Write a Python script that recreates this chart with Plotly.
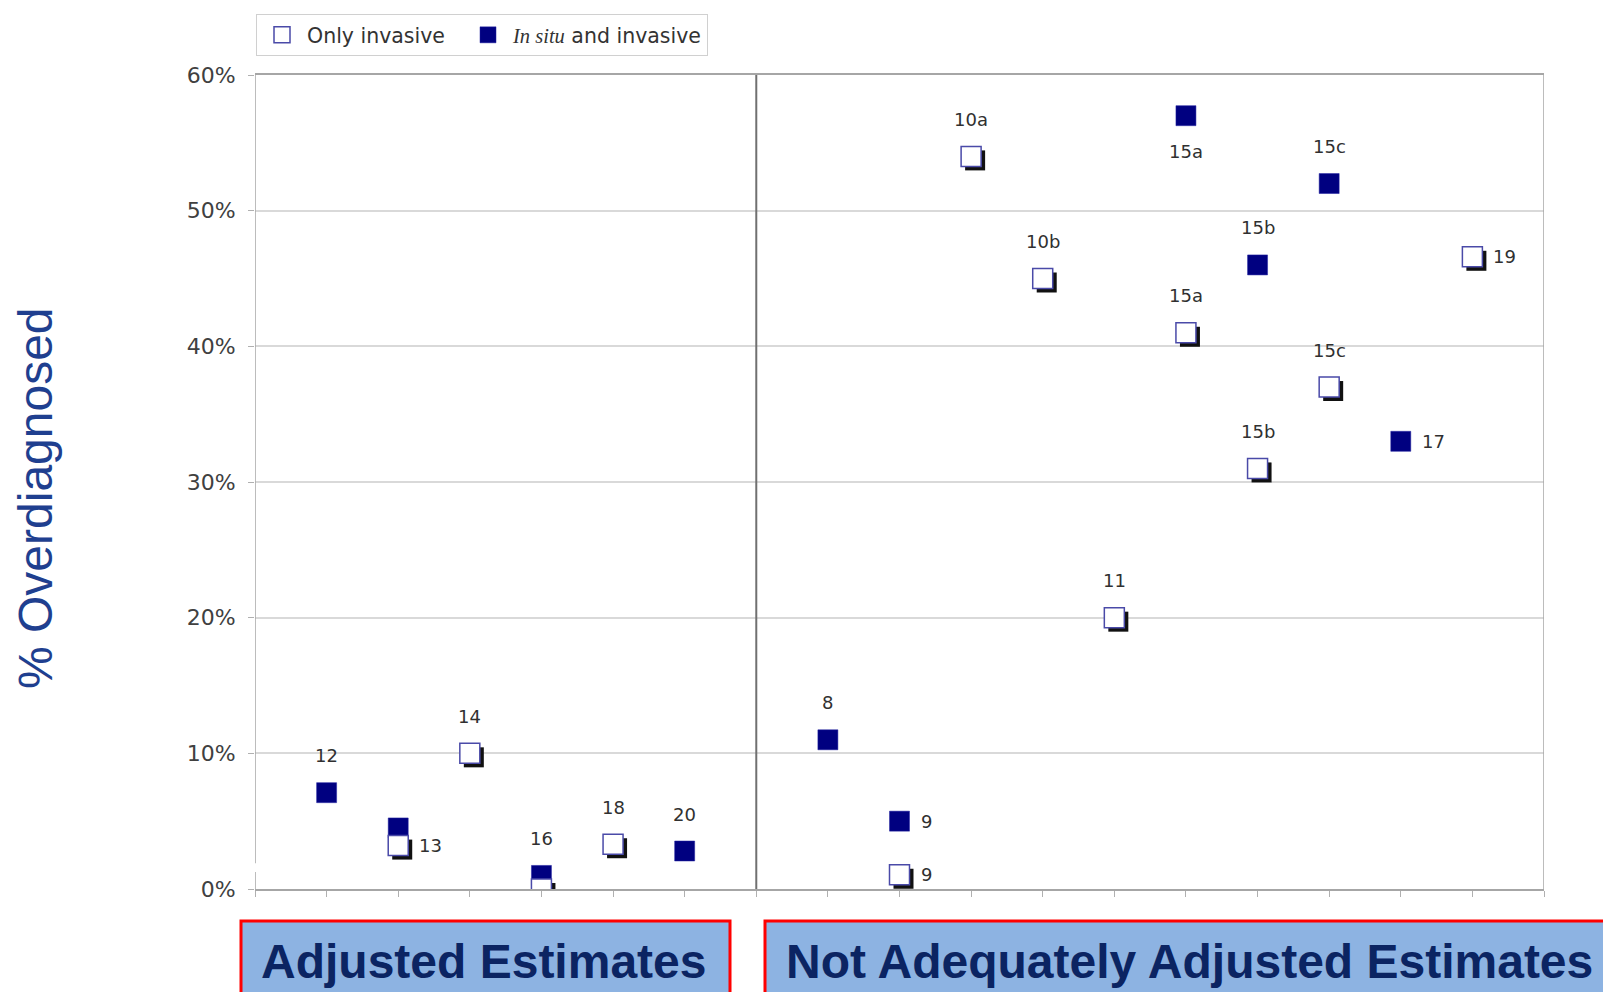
import plotly.graph_objects as go

# ---------------- data ----------------
OPEN_X = [2, 3, 4, 5, 9, 10, 11, 12, 13, 14, 15, 17]
OPEN_Y = [3.2, 10.0, 0.0, 3.3, 1.05, 54.0, 45.0, 20.0, 41.0, 31.0, 37.0, 46.6]
OPEN_LABELS = ["13", "14", "", "18", "9", "10a", "10b", "11", "15a", "15b", "15c", "19"]
OPEN_LABEL_POS = ["right", "top", "", "top", "right", "top", "top", "top", "top", "top", "top", "right"]

FILLED_X = [1, 2, 4, 6, 8, 9, 13, 14, 15, 16]
FILLED_Y = [7.1, 4.5, 1.0, 2.8, 11.0, 5.0, 57.0, 46.0, 52.0, 33.0]
FILLED_LABELS = ["12", "", "16", "20", "8", "9", "15a", "15b", "15c", "17"]
FILLED_LABEL_POS = ["top", "", "top", "top", "top", "right", "bottom", "top", "top", "right"]

Y_TICKS = [0, 10, 20, 30, 40, 50, 60]
Y_TICK_TEXT = ["0%", "10%", "20%", "30%", "40%", "50%", "60%"]
X_MAX = 18
DIVIDER_X = 7
GROUP_NAMES = ["Adjusted Estimates", "Not Adequately Adjusted Estimates"]
SERIES_NAMES = ["Only invasive\u00a0\u00a0", '<i><span style="font-family:Liberation Serif">In situ</span></i> and invasive']

# ---------------- layout geometry (page pixels) ----------------
W, H = 1611, 992
BODY = 8  # default page body margin
PLOT_L, PLOT_R, PLOT_T, PLOT_B = 255, 1544, 75, 889
ML = PLOT_L - BODY
MT = PLOT_T - BODY
MR = W - (PLOT_R - BODY)
MB = H - (PLOT_B - BODY)
PW = PLOT_R - PLOT_L
PH = PLOT_B - PLOT_T
Y_MAX = 60

NAVY = "#000080"
OPEN_EDGE = "#4A4AA8"
LABEL_FONT = dict(family="DejaVu Sans", size=18, color="#303030")

# shadow offset of open squares (pixels -> data units)
SH_PX = 4
sh_dx = SH_PX * X_MAX / PW
sh_dy = SH_PX * Y_MAX / PH

fig = go.Figure()

fig.add_trace(go.Scatter(
    x=FILLED_X, y=FILLED_Y, mode="markers", name=SERIES_NAMES[1],
    marker=dict(symbol="square", size=20, color=NAVY, line=dict(width=0.5, color="#2020A0")),
    legendrank=2, hoverinfo="skip",
))
fig.add_trace(go.Scatter(
    x=[v + sh_dx for v in OPEN_X], y=[v - sh_dy for v in OPEN_Y], mode="markers",
    marker=dict(symbol="square", size=20, color="#111111", line=dict(width=0)),
    showlegend=False, hoverinfo="skip",
))
fig.add_trace(go.Scatter(
    x=OPEN_X, y=OPEN_Y, mode="markers", name=SERIES_NAMES[0],
    marker=dict(symbol="square", size=20, color="white", line=dict(width=1.5, color=OPEN_EDGE)),
    legendrank=1, hoverinfo="skip",
))

annotations = []


def add_labels(xs, ys, labels, positions):
    for x, y, t, p in zip(xs, ys, labels, positions):
        if not t:
            continue
        a = dict(x=x, y=y, xref="x", yref="y", text=t, showarrow=False, font=LABEL_FONT)
        if p == "top":
            a.update(yshift=37, xanchor="center", yanchor="middle")
        elif p == "bottom":
            a.update(yshift=-36, xanchor="center", yanchor="middle")
        elif p == "right":
            a.update(xshift=19, xanchor="left", yanchor="middle")
        annotations.append(a)


add_labels(OPEN_X, OPEN_Y, OPEN_LABELS, OPEN_LABEL_POS)
add_labels(FILLED_X, FILLED_Y, FILLED_LABELS, FILLED_LABEL_POS)


def px_x(px):
    return (px - PLOT_L) / PW


def px_y(py):
    return (PLOT_B - py) / PH


# y-axis title
annotations.append(dict(
    x=px_x(36), y=px_y(498), xref="paper", yref="paper", text="% Overdiagnosed",
    textangle=-90, showarrow=False, xanchor="center", yanchor="middle",
    font=dict(family="Liberation Sans", size=48, color="#1F3F8F"),
))

# group boxes
shapes = []
boxes = [(241, 730, 483), (765, 1640, 1189)]
for (x0, x1, xc), name in zip(boxes, GROUP_NAMES):
    shapes.append(dict(type="rect", xref="paper", yref="paper",
                       x0=px_x(x0), x1=px_x(x1), y0=px_y(1015), y1=px_y(921),
                       fillcolor="#8DB3E2", line=dict(color="#FF0000", width=3), layer="above"))
    annotations.append(dict(
        x=px_x(xc), y=px_y(961), xref="paper", yref="paper", text="<b>%s</b>" % name,
        showarrow=False, xanchor="center", yanchor="middle",
        font=dict(family="Liberation Sans", size=48, color="#0B2462"),
    ))

# divider between groups
shapes.append(dict(type="line", xref="x", yref="y", x0=DIVIDER_X, x1=DIVIDER_X, y0=0, y1=Y_MAX,
                   line=dict(color="#707070", width=2)))
# right frame line
shapes.append(dict(type="line", xref="x", yref="y", x0=X_MAX, x1=X_MAX, y0=0, y1=Y_MAX,
                   line=dict(color="#A6A6A6", width=1.5)))
# left axis line with a small break near the bottom
shapes.append(dict(type="line", xref="x", yref="y", x0=0, x1=0, y0=1.9, y1=Y_MAX,
                   line=dict(color="#A6A6A6", width=1.5)))
shapes.append(dict(type="line", xref="x", yref="y", x0=0, x1=0, y0=0, y1=1.25,
                   line=dict(color="#A6A6A6", width=1.5)))

fig.update_layout(
    width=W, height=H,
    margin=dict(l=ML, r=MR, t=MT, b=MB, autoexpand=False),
    paper_bgcolor="white", plot_bgcolor="white",
    showlegend=True,
    legend=dict(
        orientation="h", x=px_x(256), y=px_y(14), xanchor="left", yanchor="top",
        bordercolor="#D0D0D0", borderwidth=1, bgcolor="white",
        font=dict(family="DejaVu Sans", size=20.5, color="#333333"),
        itemwidth=40, traceorder="normal",
    ),
    xaxis=dict(range=[0, X_MAX], dtick=1, tick0=0, showticklabels=False, showgrid=False,
               zeroline=False, showline=True, mirror=True, linecolor="#A6A6A6", linewidth=1.5,
               ticks="outside", ticklen=6, tickcolor="#B0B0B0", fixedrange=True),
    yaxis=dict(range=[0, Y_MAX], tickvals=Y_TICKS, ticktext=Y_TICK_TEXT, showgrid=True,
               gridcolor="#D9D9D9", gridwidth=1.5, zeroline=False, showline=False,
               ticks="outside", ticklen=6, tickcolor="#B0B0B0", ticklabelstandoff=8,
               tickfont=dict(family="DejaVu Sans", size=22, color="#404040"), fixedrange=True),
    shapes=shapes,
    annotations=annotations,
)

fig.write_html("out.html")
